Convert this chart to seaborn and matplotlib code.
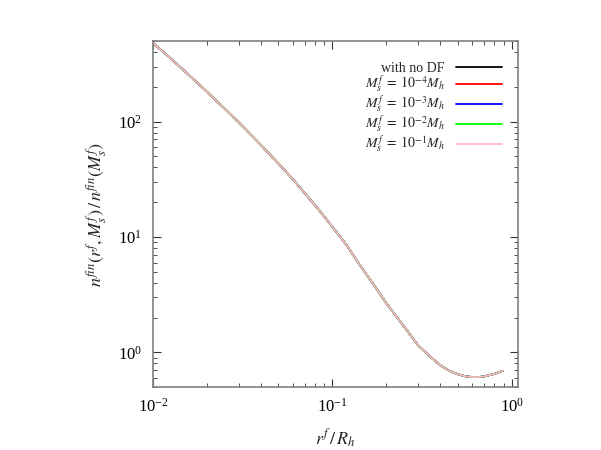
import matplotlib
matplotlib.use("Agg")
import matplotlib.pyplot as plt
import numpy as np
import pandas as pd
import seaborn as sns

# * Values (all five curves lie on top of each other)
r_over_R = [0.010, 0.012, 0.015, 0.020, 0.025, 0.030, 0.040, 0.050, 0.060,
            0.070, 0.085, 0.100, 0.120, 0.140, 0.170, 0.200, 0.250, 0.300,
            0.350, 0.400, 0.450, 0.500, 0.550, 0.600, 0.650, 0.700, 0.800,
            0.890]
n_ratio = [480, 375, 274, 181, 130, 98.5, 62.5, 43.3, 31.8,
           24.0, 16.8, 12.2, 8.5, 5.9, 3.85, 2.65, 1.68, 1.15,
           0.92, 0.77, 0.69, 0.645, 0.620, 0.610, 0.610, 0.617, 0.650,
           0.690]
labels = ["with no DF",
          r"$M_s^f\;=\;10^{-4}M_h$",
          r"$M_s^f\;=\;10^{-3}M_h$",
          r"$M_s^f\;=\;10^{-2}M_h$",
          r"$M_s^f\;=\;10^{-1}M_h$"]
colors = ["#000000", "#ff0000", "#0000ff", "#00ff00", "#ffb6c1"]

rows = []
for lab in labels:
    for x, y in zip(r_over_R, n_ratio):
        rows.append({"r": x, "n": y, "model": lab})
df = pd.DataFrame(rows)

sns.set_style("ticks")
plt.rcParams["font.family"] = ["Liberation Serif", "DejaVu Serif"]
plt.rcParams["mathtext.fontset"] = "stix"

fig = plt.figure(figsize=(6.01, 4.5), dpi=100)
ax = fig.add_axes([0.2546, 0.14, 0.607, 0.769])

sns.lineplot(data=df, x="r", y="n", hue="model", hue_order=labels,
             palette=dict(zip(labels, colors)), linewidth=1.3, ax=ax,
             sort=False, estimator=None)

ax.set_xscale("log")
ax.set_yscale("log")
ax.set_xlim(0.01, 1.08)
ax.set_ylim(0.5, 500)

for s in ax.spines.values():
    s.set_color("#808080")
    s.set_linewidth(1.2)
ax.tick_params(which="both", direction="in", top=True, right=True,
               colors="#333333", labelcolor="black", labelsize=12, pad=8)
ax.tick_params(which="major", length=6)
ax.tick_params(which="minor", length=3)

ax.set_xlabel(r"$r^f\,/\,R_h$", fontsize=13, labelpad=8)
ax.set_ylabel(r"$n^{fin}(r^f,M_s^f)\,/\,n^{fin}(M_s^f)$", fontsize=13, labelpad=6)

# * Legend with text first and line on the right, gnuplot style
leg = ax.legend(loc="upper right", bbox_to_anchor=(0.99, 0.975), frameon=False,
                markerfirst=False, fontsize=10, handlelength=3.3,
                labelspacing=-0.1, handletextpad=0.8)

fig.savefig("out.png", dpi=100)
